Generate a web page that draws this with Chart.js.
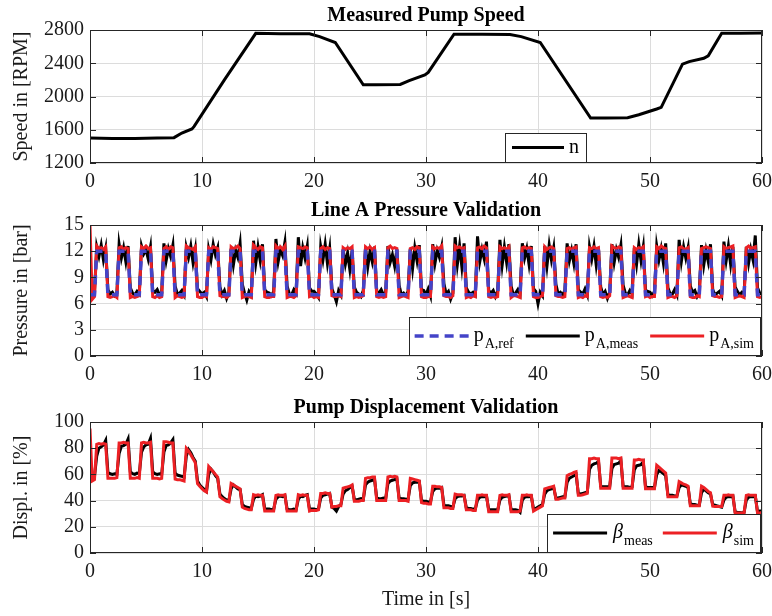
<!DOCTYPE html>
<html>
<head>
<meta charset="utf-8">
<script src="https://cdn.jsdelivr.net/npm/chart.js@4.4.1/dist/chart.umd.min.js"></script>
<style>
  html, body { margin: 0; padding: 0; background: #fff; }
  canvas { position: absolute; left: 0; }
</style>
</head>
<body>
<canvas id="speed" style="top:0px" width="772" height="192"></canvas>
<canvas id="pressure" style="top:192px" width="772" height="200"></canvas>
<canvas id="displ" style="top:392px" width="772" height="224"></canvas>
<script>
// ---- data ----
const xTicks = [0, 10, 20, 30, 40, 50, 60];
const speedTicks = [1200, 1600, 2000, 2400, 2800];
const pressureTicks = [0, 3, 6, 9, 12, 15];
const displTicks = [0, 20, 40, 60, 80, 100];

// measured pump speed, breakpoints [s] / [RPM]
const speedTime = [0, 2, 4, 6, 7.5, 8.2, 9.1, 9.3, 12, 14.8, 17, 19.6, 20.5, 21.9, 24.4, 25.5, 27.7, 28.5, 29.9, 30.2,
  32.5, 35, 37.5, 38.5, 40.2, 44.7, 46, 48, 49, 50.6, 51, 52.9, 53.5, 54.8, 55.2, 56.4, 58, 60];
const speedRpm = [1500, 1495, 1495, 1500, 1505, 1560, 1610, 1640, 2200, 2760, 2755, 2755, 2720, 2650, 2140, 2140, 2145, 2190, 2260, 2290,
  2750, 2750, 2745, 2720, 2650, 1740, 1740, 1745, 1780, 1850, 1870, 2390, 2420, 2460, 2490, 2760, 2760, 2765];

// logged signals, one sample every dt seconds (10 samples per line = one 2 s cycle)
const dt = 0.2;

const pRef = [
  7, 7, 7, 12, 12, 12, 12, 12, 7, 7,
  7, 7, 7, 12, 12, 12, 12, 12, 7, 7,
  7, 7, 7, 12, 12, 12, 12, 12, 7, 7,
  7, 7, 7, 12, 12, 12, 12, 12, 7, 7,
  7, 7, 7, 12, 12, 12, 12, 12, 7, 7,
  7, 7, 7, 12, 12, 12, 12, 12, 7, 7,
  7, 7, 7, 12, 12, 12, 12, 12, 7, 7,
  7, 7, 7, 12, 12, 12, 12, 12, 7, 7,
  7, 7, 7, 12, 12, 12, 12, 12, 7, 7,
  7, 7, 7, 12, 12, 12, 12, 12, 7, 7,
  7, 7, 7, 12, 12, 12, 12, 12, 7, 7,
  7, 7, 7, 12, 12, 12, 12, 12, 7, 7,
  7, 7, 7, 12, 12, 12, 12, 12, 7, 7,
  7, 7, 7, 12, 12, 12, 12, 12, 7, 7,
  7, 7, 7, 12, 12, 12, 12, 12, 7, 7,
  7, 7, 7, 12, 12, 12, 12, 12, 7, 7,
  7, 7, 7, 12, 12, 12, 12, 12, 7, 7,
  7, 7, 7, 12, 12, 12, 12, 12, 7, 7,
  7, 7, 7, 12, 12, 12, 12, 12, 7, 7,
  7, 7, 7, 12, 12, 12, 12, 12, 7, 7,
  7, 7, 7, 12, 12, 12, 12, 12, 7, 7,
  7, 7, 7, 12, 12, 12, 12, 12, 7, 7,
  7, 7, 7, 12, 12, 12, 12, 12, 7, 7,
  7, 7, 7, 12, 12, 12, 12, 12, 7, 7,
  7, 7, 7, 12, 12, 12, 12, 12, 7, 7,
  7, 7, 7, 12, 12, 12, 12, 12, 7, 7,
  7, 7, 7, 12, 12, 12, 12, 12, 7, 7,
  7, 7, 7, 12, 12, 12, 12, 12, 7, 7,
  7, 7, 7, 12, 12, 12, 12, 12, 7, 7,
  7, 7, 7, 12, 12, 12, 12, 12, 7, 7,
  7
];

const pMeas = [
  7.0, 7.1, 7.3, 12.5, 11.4, 12.7, 11.0, 12.3, 7.6, 7.1,
  7.3, 6.9, 7.2, 12.8, 11.2, 12.4, 10.8, 12.6, 7.8, 7.2,
  7.0, 7.4, 7.1, 12.6, 11.7, 12.2, 11.1, 12.5, 7.5, 7.3,
  7.6, 7.0, 7.2, 12.9, 10.9, 12.3, 11.4, 12.7, 8.0, 7.1,
  7.2, 7.5, 7.0, 12.4, 11.3, 12.6, 10.7, 12.2, 7.7, 7.4,
  7.1, 7.3, 6.8, 12.2, 11.0, 12.8, 11.6, 12.4, 7.9, 7.0,
  7.5, 6.6, 7.3, 12.3, 10.4, 12.1, 11.3, 12.9, 8.2, 7.2,
  6.4, 7.4, 7.0, 13.2, 10.6, 12.5, 10.9, 12.8, 7.6, 7.3,
  7.2, 6.9, 7.4, 13.4, 10.8, 12.2, 11.5, 13.0, 8.0, 7.1,
  7.0, 7.6, 7.2, 13.6, 10.3, 12.4, 11.2, 12.6, 7.8, 7.4,
  7.4, 7.1, 6.7, 12.5, 11.0, 12.8, 10.6, 12.3, 7.7, 7.0,
  6.2, 7.5, 7.0, 12.2, 10.5, 11.8, 9.9, 12.1, 7.9, 7.3,
  7.1, 6.8, 7.5, 12.4, 10.2, 12.0, 10.8, 12.5, 7.4, 7.2,
  7.6, 7.0, 7.3, 12.6, 10.7, 11.6, 10.3, 12.2, 8.1, 7.0,
  7.2, 6.9, 7.4, 12.3, 10.0, 12.4, 10.9, 12.7, 7.6, 7.5,
  7.0, 7.7, 6.9, 12.8, 10.6, 12.1, 11.3, 12.5, 8.3, 7.1,
  7.4, 6.5, 7.2, 13.6, 10.5, 12.6, 10.2, 12.9, 7.8, 7.3,
  7.1, 7.3, 7.0, 13.7, 10.8, 12.2, 11.1, 13.1, 7.5, 7.2,
  7.5, 6.8, 7.4, 13.3, 10.4, 12.5, 10.7, 12.8, 8.0, 7.0,
  7.2, 7.6, 7.1, 12.9, 11.2, 12.3, 10.5, 12.6, 7.7, 7.4,
  6.0, 7.3, 6.9, 12.6, 10.3, 12.7, 11.0, 12.4, 8.2, 7.1,
  7.3, 7.0, 7.5, 12.9, 10.9, 12.1, 10.6, 12.8, 7.6, 7.3,
  7.1, 7.7, 7.0, 12.5, 11.1, 12.6, 10.4, 12.3, 7.9, 7.0,
  7.4, 6.6, 7.3, 12.8, 10.7, 12.2, 11.3, 12.7, 8.1, 7.2,
  7.0, 7.5, 7.1, 12.4, 10.5, 12.8, 10.9, 12.5, 7.5, 7.4,
  7.3, 6.9, 7.4, 12.6, 11.0, 12.3, 10.6, 12.9, 7.8, 7.1,
  7.1, 7.6, 7.0, 13.3, 10.8, 12.5, 11.2, 12.4, 8.0, 7.3,
  7.5, 6.8, 7.3, 12.7, 10.4, 12.1, 10.8, 12.8, 7.6, 7.0,
  7.2, 7.4, 6.9, 13.1, 10.9, 12.6, 10.5, 12.5, 7.9, 7.4,
  7.0, 7.3, 7.1, 12.5, 10.6, 12.2, 11.0, 13.8, 7.8, 7.2,
  7.1
];

const pSim = [
  15.0, 6.5, 6.8, 12.6, 12.3, 12.4, 12.2, 12.5, 6.8, 6.7,
  6.8, 6.9, 6.7, 12.4, 12.5, 12.2, 12.4, 12.3, 6.7, 6.8,
  6.7, 6.8, 6.9, 12.5, 12.3, 12.6, 12.3, 12.4, 6.8, 6.7,
  6.9, 6.7, 6.8, 12.3, 12.5, 12.2, 12.5, 12.4, 6.7, 6.9,
  6.8, 6.7, 6.8, 12.6, 12.4, 12.3, 12.2, 12.5, 6.8, 6.7,
  6.7, 6.9, 6.8, 12.4, 12.2, 12.5, 12.4, 12.3, 6.9, 6.8,
  6.8, 6.7, 6.9, 12.5, 12.3, 12.4, 12.6, 12.3, 6.7, 6.8,
  6.9, 6.8, 6.7, 12.7, 12.4, 12.2, 12.5, 12.4, 6.8, 6.7,
  6.7, 6.8, 6.8, 12.6, 12.3, 12.5, 12.2, 12.6, 6.7, 6.8,
  6.8, 6.7, 6.9, 12.5, 12.4, 12.3, 12.5, 12.4, 6.8, 6.9,
  6.7, 6.8, 6.7, 12.3, 12.5, 12.2, 12.4, 12.3, 6.9, 6.8,
  6.8, 6.9, 6.8, 12.4, 12.2, 12.4, 12.3, 12.5, 6.7, 6.8,
  6.7, 6.8, 6.9, 12.5, 12.3, 12.5, 12.2, 12.4, 6.8, 6.7,
  6.8, 6.7, 6.8, 12.4, 12.6, 12.3, 12.4, 12.3, 6.7, 6.8,
  6.9, 6.8, 6.7, 12.3, 12.4, 12.2, 12.5, 12.4, 6.8, 6.7,
  6.7, 6.8, 6.8, 12.5, 12.3, 12.4, 12.3, 12.6, 6.9, 6.8,
  6.8, 6.7, 6.9, 12.6, 12.4, 12.5, 12.3, 12.4, 6.7, 6.8,
  6.7, 6.9, 6.8, 12.4, 12.5, 12.3, 12.6, 12.4, 6.8, 6.7,
  6.8, 6.7, 6.8, 12.5, 12.3, 12.4, 12.2, 12.5, 6.7, 6.9,
  6.9, 6.8, 6.7, 12.4, 12.5, 12.3, 12.4, 12.3, 6.8, 6.7,
  6.7, 6.8, 6.9, 12.5, 12.2, 12.4, 12.5, 12.3, 6.9, 6.8,
  6.8, 6.7, 6.8, 12.3, 12.4, 12.2, 12.4, 12.5, 6.7, 6.8,
  6.7, 6.9, 6.8, 12.4, 12.3, 12.5, 12.3, 12.4, 6.8, 6.7,
  6.8, 6.7, 6.9, 12.6, 12.4, 12.3, 12.5, 12.4, 6.7, 6.8,
  6.9, 6.8, 6.7, 12.4, 12.2, 12.4, 12.3, 12.5, 6.8, 6.9,
  6.7, 6.8, 6.8, 12.5, 12.3, 12.6, 12.4, 12.3, 6.7, 6.8,
  6.8, 6.7, 6.9, 12.4, 12.5, 12.3, 12.2, 12.4, 6.8, 6.7,
  6.7, 6.9, 6.8, 12.3, 12.4, 12.5, 12.4, 12.3, 6.9, 6.8,
  6.8, 6.7, 6.8, 12.5, 12.3, 12.4, 12.5, 12.6, 6.7, 6.8,
  6.9, 6.8, 6.7, 12.4, 12.6, 12.3, 12.4, 12.5, 6.8, 6.7,
  6.8
];

const betaMeas = [
  58, 57.5, 58.5, 74, 80, 81, 82.5, 86, 61.5, 60.5,
  60, 60.5, 60, 76, 81.5, 82, 83, 87, 62, 60.5,
  60, 61, 60.5, 77, 81, 82.5, 83, 87.5, 62, 60.5,
  60, 60.5, 60, 77, 82, 82.5, 84, 86.5, 61, 59.5,
  59, 58.5, 58, 74, 79, 76.5, 73, 70, 55, 52,
  50, 48.5, 47, 60, 64, 62, 59, 57, 45, 43,
  41.5, 40.5, 40, 49, 52, 50.5, 49, 48.5, 37, 35.5,
  35, 34.5, 34, 41, 43.5, 43, 43.5, 44.5, 34, 33.5,
  33.5, 33, 33.5, 41, 43, 43.5, 43, 44, 33.5, 33,
  33, 33.5, 33, 41, 43.5, 43, 44, 44.5, 33.5, 33.5,
  33.5, 33, 33.5, 42, 44, 44.5, 45, 45.5, 35, 34,
  32, 35.5, 37, 45, 47.5, 48.5, 50, 51, 41, 40.5,
  41, 41.5, 41, 52, 54, 55, 55.5, 56.5, 42, 41.5,
  41.5, 42, 41.5, 53, 55, 55.5, 56, 56.5, 42, 41.5,
  41.5, 41, 41, 51.5, 53.5, 54, 54, 54.5, 40, 39.5,
  39.5, 39, 39, 47, 49, 49.5, 49.5, 50, 36.5, 36,
  36, 35.5, 35, 41.5, 43, 43.5, 43.5, 44, 34.5, 34,
  34, 33.5, 33.5, 40.5, 42.5, 43, 43, 43.5, 33, 33,
  33, 33, 32.5, 40.5, 42.5, 43, 43.5, 44, 33, 33,
  33, 32.5, 31, 40.5, 42.5, 43, 43, 43.5, 33.5, 34,
  35, 36, 37, 45, 47.5, 48.5, 49, 50, 42, 42,
  42.5, 43, 43, 54, 57, 58, 59, 60, 45.5, 45,
  45.5, 46, 46.5, 64, 67, 68, 68.5, 70, 51, 50.5,
  50.5, 50.5, 50.5, 64.5, 67.5, 68, 68.5, 70.5, 51, 50.5,
  50.5, 50, 50.5, 63.5, 66.5, 67, 67.5, 69.5, 50.5, 50,
  50, 50, 50, 60, 63, 62, 60.5, 59, 44.5, 44,
  44, 43.5, 43.5, 50, 52, 51.5, 51, 50, 37.5, 37,
  37, 36.5, 36.5, 46, 48.5, 47.5, 46, 45, 37, 36.5,
  36, 35.5, 35, 40.5, 42.5, 43, 43, 43.5, 31.5, 31,
  31, 30.5, 31, 40.5, 42.5, 43, 43, 43.5, 31.5, 32,
  32
];

const betaSim = [
  95, 55, 56, 83, 83.5, 83, 83.5, 83, 57, 57,
  57, 57, 57.5, 84, 84, 84.5, 84, 84, 57, 57,
  57, 57.5, 57, 84, 84.5, 84, 84, 84.5, 57, 57,
  57, 56.5, 57, 85, 85, 84.5, 84, 84, 56.5, 56,
  56, 55.5, 55, 80, 78, 75, 72, 69, 53, 51,
  49, 47.5, 46.5, 66, 64, 62, 60, 58, 43, 41.5,
  40.5, 39.5, 39, 53, 52, 51, 50, 49, 35, 34,
  33.5, 33, 33, 44.5, 44, 44.5, 44, 44, 32, 32,
  32, 32, 32, 44, 44.5, 44, 44, 44.5, 32, 32,
  32, 32, 32, 44.5, 44, 44.5, 44, 44, 32, 32.5,
  32.5, 32.5, 33, 45.5, 45.5, 46, 45.5, 45.5, 35, 35.5,
  35.5, 36, 36, 49.5, 50, 50.5, 51, 52, 39.5, 39.5,
  39.5, 40, 40, 57, 57.5, 57.5, 58, 58, 40, 40,
  40, 40, 40, 58, 58.5, 58, 58.5, 58, 40, 40,
  40, 40, 39.5, 57, 56.5, 56, 55.5, 55, 38.5, 38,
  38, 37.5, 37.5, 51, 51, 50.5, 50.5, 50, 34.5, 34.5,
  34.5, 34, 34, 45, 44.5, 44.5, 44.5, 44, 33, 33,
  33, 32.5, 32.5, 44, 44, 44.5, 44, 44, 31.5, 31.5,
  31.5, 31.5, 31.5, 44, 44.5, 44, 44, 44.5, 31.5, 31.5,
  31.5, 31.5, 32, 44, 44, 44.5, 44, 44, 32, 33,
  34, 35, 36, 49, 49.5, 50, 50.5, 51, 41, 41,
  41.5, 42, 42, 59, 60, 60.5, 61.5, 62, 44, 44,
  44.5, 45, 45.5, 72, 72, 72.5, 72, 72, 49.5, 49.5,
  49.5, 49.5, 49.5, 72.5, 72.5, 72.5, 72, 72.5, 49.5, 49.5,
  49.5, 49.5, 49.5, 71, 71, 71.5, 71, 71, 49, 49,
  49, 49, 49, 67, 65.5, 64, 62.5, 61, 43, 43,
  43, 43, 43, 54.5, 53.5, 52.5, 52, 51, 36, 36,
  36, 36, 36, 51, 50, 48.5, 47, 46, 35.7, 35.5,
  35.5, 35.5, 35.5, 44, 44, 44.5, 44, 44, 30.5, 30.5,
  30.5, 30.5, 30.5, 44, 44.5, 44, 44, 44, 30.5, 30.5,
  31
];

// ---- helpers ----
const SERIF = '"Liberation Serif", "Times New Roman", serif';
const INK = '#1a1a1a';
const RED = 'rgb(236, 32, 36)';
const BLUE = 'rgb(68, 68, 200)';

function sampled(values) {
  return values.map((v, i) => ({ x: Math.round(i * dt * 10) / 10, y: v }));
}

// MATLAB-like box, inward ticks, bold title and legend with subscripts
const matlabAxes = {
  id: 'matlabAxes',
  afterDraw(chart, args, opts) {
    const { ctx, chartArea: a, scales } = chart;
    ctx.save();
    ctx.strokeStyle = '#262626';
    ctx.lineWidth = 1;
    ctx.strokeRect(a.left + 0.5, a.top + 0.5, a.width - 1, a.height - 1);

    const len = 6;
    ctx.beginPath();
    scales.x.ticks.forEach(t => {
      const px = Math.round(scales.x.getPixelForValue(t.value)) + 0.5;
      ctx.moveTo(px, a.bottom); ctx.lineTo(px, a.bottom - len);
      ctx.moveTo(px, a.top); ctx.lineTo(px, a.top + len);
    });
    scales.y.ticks.forEach(t => {
      const py = Math.round(scales.y.getPixelForValue(t.value)) + 0.5;
      ctx.moveTo(a.left, py); ctx.lineTo(a.left + len, py);
      ctx.moveTo(a.right, py); ctx.lineTo(a.right - len, py);
    });
    ctx.stroke();

    ctx.fillStyle = '#000';
    ctx.font = 'bold 20px ' + SERIF;
    ctx.textAlign = 'center';
    ctx.textBaseline = 'alphabetic';
    ctx.fillText(opts.title, (a.left + a.right) / 2, a.top - 9);

    // legend
    const lg = opts.legend;
    const mainFont = (it) => (it.italic ? 'italic ' : '') + '20px ' + SERIF;
    const subFont = '14px ' + SERIF;
    const widths = lg.items.map(it => {
      ctx.font = mainFont(it);
      let w = ctx.measureText(it.main).width;
      if (it.sub) { ctx.font = subFont; w += ctx.measureText(it.sub).width + 1; }
      return w;
    });
    let boxW = lg.pad * 2;
    lg.items.forEach((it, i) => { boxW += lg.line + lg.gap + widths[i] + (i ? lg.itemGap : 0); });
    const x0 = lg.left !== undefined ? a.left + lg.left : a.right - lg.right - boxW;
    const y1 = a.bottom - lg.bottom;
    const y0 = y1 - lg.height;
    ctx.fillStyle = '#fff';
    ctx.fillRect(x0, y0, boxW, lg.height);
    ctx.strokeStyle = '#262626';
    ctx.lineWidth = 1;
    ctx.strokeRect(Math.round(x0) + 0.5, Math.round(y0) + 0.5, Math.round(boxW), Math.round(lg.height));

    const my = y0 + lg.height / 2;
    let x = x0 + lg.pad;
    lg.items.forEach((it, i) => {
      if (i) x += lg.itemGap;
      ctx.beginPath();
      ctx.strokeStyle = it.color;
      ctx.lineWidth = it.width;
      ctx.setLineDash(it.dash || []);
      ctx.moveTo(x, my); ctx.lineTo(x + lg.line, my);
      ctx.stroke();
      ctx.setLineDash([]);
      x += lg.line + lg.gap;
      ctx.fillStyle = '#000';
      ctx.textAlign = 'left';
      ctx.font = mainFont(it);
      ctx.fillText(it.main, x, my + 5);
      x += ctx.measureText(it.main).width + 1;
      if (it.sub) {
        ctx.font = subFont;
        ctx.fillText(it.sub, x, my + 12);
        x += ctx.measureText(it.sub).width;
      }
    });
    ctx.restore();
  }
};

function makeChart(id, cfg) {
  const tickFont = { family: SERIF, size: 20 };
  return new Chart(document.getElementById(id), {
    type: 'line',
    data: { datasets: cfg.datasets },
    options: {
      responsive: false,
      animation: false,
      devicePixelRatio: 1,
      layout: { padding: { top: cfg.top, right: 10, left: 0, bottom: 0 } },
      elements: { point: { radius: 0 }, line: { tension: 0 } },
      plugins: {
        legend: { display: false },
        tooltip: { enabled: false },
        matlabAxes: { title: cfg.title, legend: cfg.legend }
      },
      scales: {
        x: {
          type: 'linear', min: 0, max: 60,
          afterBuildTicks: ax => { ax.ticks = xTicks.map(v => ({ value: v })); },
          afterFit: ax => { ax.height = cfg.xHeight; ax.paddingLeft = 0; ax.paddingRight = 0; },
          grid: { color: '#dcdcdc', drawTicks: false },
          border: { display: false },
          ticks: { font: tickFont, color: INK, padding: 7, maxRotation: 0, autoSkip: false, callback: v => String(v) },
          title: cfg.xTitle ? { display: true, text: cfg.xTitle, font: tickFont, color: INK, padding: { top: 0, bottom: 4 } } : { display: false }
        },
        y: {
          type: 'linear', min: cfg.yTicks[0], max: cfg.yTicks[cfg.yTicks.length - 1],
          afterBuildTicks: ax => { ax.ticks = cfg.yTicks.map(v => ({ value: v })); },
          afterFit: ax => { ax.width = 90; ax.paddingTop = 0; ax.paddingBottom = 0; },
          grid: { color: '#dcdcdc', drawTicks: false },
          border: { display: false },
          ticks: { font: tickFont, color: INK, padding: 6, autoSkip: false, callback: v => String(v) },
          title: { display: true, text: cfg.yTitle, font: tickFont, color: INK, padding: { top: 10, bottom: 0 } }
        }
      }
    },
    plugins: [matlabAxes]
  });
}

// ---- Measured Pump Speed ----
makeChart('speed', {
  top: 30, xHeight: 29,
  title: 'Measured Pump Speed',
  yTitle: 'Speed in [RPM]',
  yTicks: speedTicks,
  datasets: [{
    label: 'n',
    data: speedTime.map((t, i) => ({ x: t, y: speedRpm[i] })),
    borderColor: '#000', borderWidth: 3
  }],
  legend: { left: 415, bottom: 1, height: 29, pad: 7, line: 52, gap: 5, itemGap: 10,
    items: [{ main: 'n', color: '#000', width: 3 }] }
});

// ---- Line A Pressure Validation ----
makeChart('pressure', {
  top: 33, xHeight: 36,
  title: 'Line A Pressure Validation',
  yTitle: 'Pressure in [bar]',
  yTicks: pressureTicks,
  datasets: [
    { label: 'pA,ref', data: sampled(pRef), borderColor: BLUE, borderWidth: 3.5, borderDash: [9, 6], order: 1 },
    { label: 'pA,meas', data: sampled(pMeas), borderColor: '#000', borderWidth: 3, order: 3 },
    { label: 'pA,sim', data: sampled(pSim), borderColor: RED, borderWidth: 3, order: 2 }
  ],
  legend: { right: 2, bottom: 1, height: 38, pad: 6, line: 54, gap: 5, itemGap: 12,
    items: [
      { main: 'p', sub: 'A,ref', color: BLUE, width: 3.5, dash: [9, 6] },
      { main: 'p', sub: 'A,meas', color: '#000', width: 3 },
      { main: 'p', sub: 'A,sim', color: RED, width: 3 }
    ] }
});

// ---- Pump Displacement Validation ----
makeChart('displ', {
  top: 30, xHeight: 63,
  title: 'Pump Displacement Validation',
  xTitle: 'Time in [s]',
  yTitle: 'Displ. in [%]',
  yTicks: displTicks,
  datasets: [
    { label: 'beta meas', data: sampled(betaMeas), borderColor: '#000', borderWidth: 3, order: 2 },
    { label: 'beta sim', data: sampled(betaSim), borderColor: RED, borderWidth: 3, order: 1 }
  ],
  legend: { right: 2, bottom: 1, height: 38, pad: 6, line: 54, gap: 6, itemGap: 10,
    items: [
      { main: 'β', sub: 'meas', italic: true, color: '#000', width: 3 },
      { main: 'β', sub: 'sim', italic: true, color: RED, width: 3 }
    ] }
});
</script>
</body>
</html>
